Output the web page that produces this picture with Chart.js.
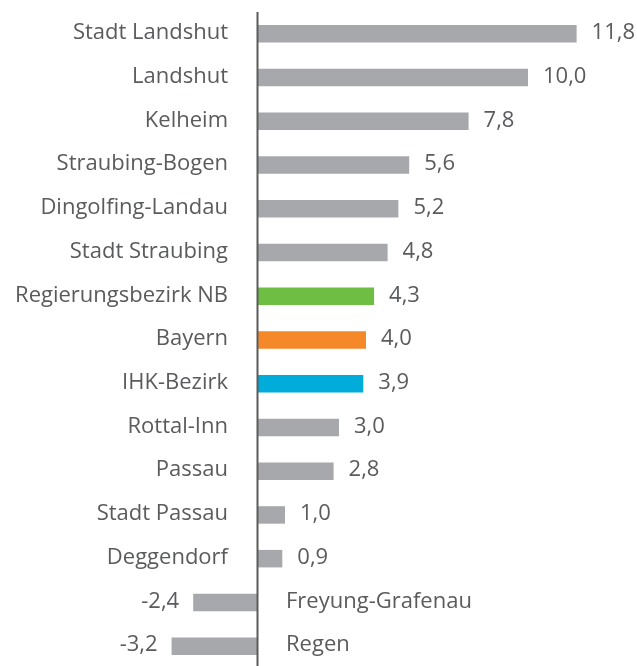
<!DOCTYPE html>
<html>
<head>
<meta charset="utf-8">
<script src="https://cdn.jsdelivr.net/npm/chart.js@4"></script>
<style>
  html, body { margin: 0; padding: 0; background: #fff; overflow: hidden; }
  #chart { display: block; }
</style>
</head>
<body>
<canvas id="chart" width="637" height="668"></canvas>
<script>
// Kategorien und Werte (von oben nach unten)
const categories = [
  'Stadt Landshut', 'Landshut', 'Kelheim', 'Straubing-Bogen', 'Dingolfing-Landau',
  'Stadt Straubing', 'Regierungsbezirk NB', 'Bayern', 'IHK-Bezirk', 'Rottal-Inn',
  'Passau', 'Stadt Passau', 'Deggendorf', 'Freyung-Grafenau', 'Regen'
];
const values = [11.8, 10.0, 7.8, 5.6, 5.2, 4.8, 4.3, 4.0, 3.9, 3.0, 2.8, 1.0, 0.9, -2.4, -3.2];

const grey = '#a7a8ab';
const barColors = [grey, grey, grey, grey, grey, grey, '#6fbe44', '#f5892a', '#00acd9',
  grey, grey, grey, grey, grey, grey];

const textColor = '#5a5b5d';
const fontFamily = '"Open Sans", sans-serif';
const fontSize = 22;

// Beschriftungen + Achsenlinie selbst zeichnen
const labelPlugin = {
  id: 'labels',
  afterDatasetsDraw(chart) {
    const ctx = chart.ctx;
    const x = chart.scales.x;
    const y = chart.scales.y;
    const zeroX = x.getPixelForValue(0);

    ctx.save();
    ctx.strokeStyle = textColor;
    ctx.lineWidth = 2;
    ctx.beginPath();
    ctx.moveTo(zeroX - 0.5, chart.chartArea.top);
    ctx.lineTo(zeroX - 0.5, chart.chartArea.bottom);
    ctx.stroke();

    ctx.fillStyle = textColor;
    ctx.font = fontSize + 'px ' + fontFamily;
    ctx.textBaseline = 'middle';

    values.forEach((v, i) => {
      const cy = y.getPixelForValue(i) - 1;
      const endX = x.getPixelForValue(v);
      const txt = v.toFixed(1).replace('.', ',');
      if (v >= 0) {
        ctx.textAlign = 'right';
        ctx.fillText(categories[i], zeroX - 30, cy);
        ctx.textAlign = 'left';
        ctx.fillText(txt, endX + 15, cy);
      } else {
        ctx.textAlign = 'left';
        ctx.fillText(categories[i], zeroX + 28, cy);
        ctx.textAlign = 'right';
        ctx.fillText(txt, endX - 14, cy);
      }
    });
    ctx.restore();
  }
};

new Chart(document.getElementById('chart'), {
  type: 'bar',
  data: {
    labels: categories,
    datasets: [{
      data: values,
      backgroundColor: barColors,
      borderWidth: 0,
      categoryPercentage: 1,
      barPercentage: 0.4
    }]
  },
  options: {
    indexAxis: 'y',
    responsive: false,
    animation: false,
    layout: { padding: { top: 12, bottom: 0, left: 0, right: 0 } },
    scales: {
      x: { display: false, min: -258 / 27, max: 379 / 27 },
      y: { display: false }
    },
    plugins: {
      legend: { display: false },
      tooltip: { enabled: false }
    }
  },
  plugins: [labelPlugin]
});
</script>
</body>
</html>
